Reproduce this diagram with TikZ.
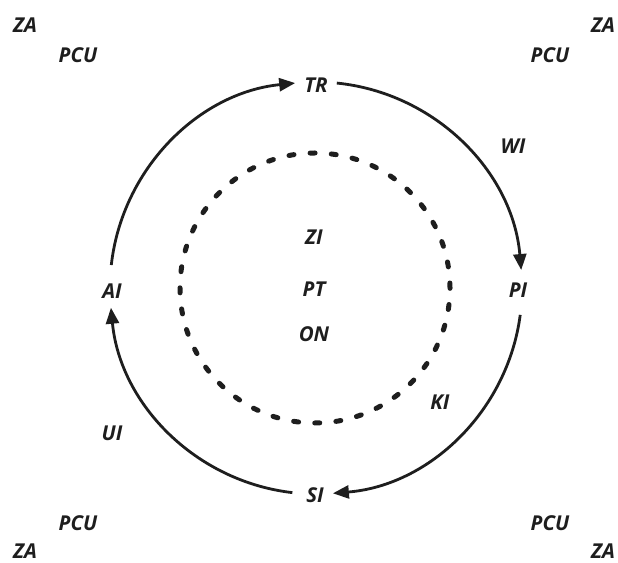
\documentclass[tikz,border=0pt]{standalone}
\usepackage{fontspec}
\setmainfont{Open Sans}
\usetikzlibrary{arrows.meta}
\definecolor{ink}{HTML}{1E1E1E}
\tikzset{
  lbl/.style={font=\fontsize{20.5}{22}\selectfont\bfseries\itshape, text=ink, inner sep=0pt},
  flow/.style={draw=ink, line width=2.8pt, -{Triangle[length=16pt,width=13pt]}},
  inner ring/.style={draw=ink, line width=5pt, line cap=round, dash pattern=on 5pt off 16.2pt}
}
\begin{document}
\begin{tikzpicture}[x=1pt,y=1pt]
\useasboundingbox (0,0) rectangle (618,562);
\coordinate (c) at (316,274);
\coordinate (ci) at (315,274);

% corner labels
\node[lbl] (za1) at (25,537) {ZA};
\node[lbl] (za2) at (603,537) {ZA};
\node[lbl] (za3) at (25,11) {ZA};
\node[lbl] (za4) at (603,11) {ZA};
\node[lbl] (pcu1) at (78,507) {PCU};
\node[lbl] (pcu2) at (550,507) {PCU};
\node[lbl] (pcu3) at (78,39) {PCU};
\node[lbl] (pcu4) at (550,39) {PCU};

% stations on the outer cycle
\node[lbl] (tr) at (316,477) {TR};
\node[lbl] (pi) at (518,272) {PI};
\node[lbl] (si) at (315,67) {SI};
\node[lbl] (ai) at (112,271) {AI};

% side labels
\node[lbl] (wi) at (513,416) {WI};
\node[lbl] (ki) at (440,160) {KI};
\node[lbl] (ui) at (112,129) {UI};

% centre labels
\node[lbl] (zi) at (314,325) {ZI};
\node[lbl] (pt) at (314,273) {PT};
\node[lbl] (on) at (314,228) {ON};

% outer cycle: TR -> PI -> SI -> AI -> TR
\draw[flow] (c) ++(84.2:206) arc[start angle=84.2, end angle=5, radius=206];
\draw[flow] (c) ++(-7.5:206) arc[start angle=-7.5, end angle=-85.3, radius=206];
\draw[flow] (c) ++(-96.6:206) arc[start angle=-96.6, end angle=-174.5, radius=206];
\draw[flow] (c) ++(173.6:206) arc[start angle=173.6, end angle=95.8, radius=206];

% inner dashed ring
\draw[inner ring] (ci) circle[radius=135];
\end{tikzpicture}
\end{document}
